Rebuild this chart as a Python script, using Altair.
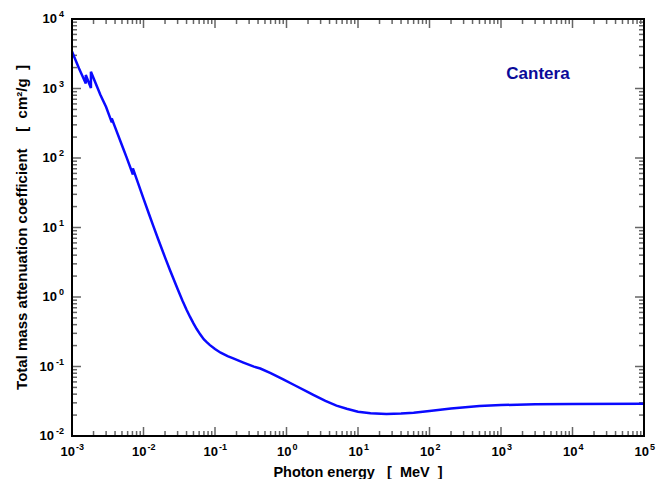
import altair as alt
import pandas as pd

# Photon energy (MeV) and total mass attenuation coefficient (cm^2/g)
energy = [1.0e-3, 1.25e-3, 1.56e-3, 1.56e-3, 1.84e-3, 1.84e-3, 2.5e-3, 3.0e-3, 3.6e-3, 3.6e-3,
          4.0e-3, 5.2e-3, 5.8e-3, 7.11e-3, 7.11e-3, 8.0e-3, 1.0e-2, 1.2e-2, 1.37e-2, 1.6e-2,
          2.0e-2, 2.35e-2, 3.0e-2, 3.5e-2, 4.0e-2, 4.5e-2, 5.0e-2, 5.55e-2, 6.2e-2, 7.0e-2,
          7.66e-2, 8.5e-2, 0.1, 0.12, 0.15, 0.18, 0.25, 0.35, 0.43, 0.6,
          0.9, 1.3, 2.0, 2.37, 3.5, 5.0, 6.95, 10.0, 15.0, 25.0,
          40.0, 60.0, 100.0, 200.0, 500.0, 1000.0, 3000.0, 1.0e4, 1.0e5]
mu = [3400, 1955, 1180, 1560, 1016, 1740, 808, 541, 325, 370,
      278, 137, 102, 58, 71, 50.2, 26.1, 15.4, 10.55, 6.83,
      3.72, 2.43, 1.30, 0.891, 0.655, 0.512, 0.417, 0.346, 0.290, 0.245,
      0.224, 0.203, 0.178, 0.158, 0.141, 0.131, 0.114, 0.0997, 0.0935, 0.0805,
      0.0655, 0.0537, 0.0429, 0.0392, 0.0321, 0.0274, 0.0247, 0.0223, 0.0212, 0.0207,
      0.0210, 0.0216, 0.0229, 0.0248, 0.0270, 0.0279, 0.0286, 0.0289, 0.0291]

# tick-label exponents (labels read as 10^n)
x_exponents = [-3, -2, -1, 0, 1, 2, 3, 4, 5]
y_exponents = [-2, -1, 0, 1, 2, 3, 4]

x_title = "Photon energy\u00a0\u00a0\u00a0[\u00a0\u00a0MeV\u00a0\u00a0]"
y_title = "Total mass attenuation coefficient\u00a0\u00a0\u00a0\u00a0[\u00a0\u00a0cm²/g\u00a0\u00a0]"
note = "Cantera"

x_major = [10.0 ** n for n in x_exponents]
y_major = [10.0 ** n for n in y_exponents]
x_minor = [k * 10.0 ** n for n in x_exponents[:-1] for k in range(2, 10)]
y_minor = [k * 10.0 ** n for n in y_exponents[:-1] for k in range(2, 10)]

W, H = 572, 417
FONT = "Liberation Sans"
TICK_COLOR = "#666666"
X_DOM = [x_major[0], x_major[-1]]
Y_DOM = [y_major[0], y_major[-1]]
PX_PER_DEC_X = W / (len(x_exponents) - 1)
PX_PER_DEC_Y = H / (len(y_exponents) - 1)

df = pd.DataFrame({"E": energy, "mu": mu, "i": range(len(energy))})

xscale = alt.Scale(type="log", domain=X_DOM, nice=False)
yscale = alt.Scale(type="log", domain=Y_DOM, nice=False)

line = alt.Chart(df).mark_line(color="#0a0aff", strokeWidth=2.5, clip=True).encode(
    x=alt.X("E:Q", scale=xscale, axis=None),
    y=alt.Y("mu:Q", scale=yscale, axis=None),
    order="i:Q",
)

# inward tick marks on all four sides, as short two-point line segments
rows = []


def seg(xa, ya, xb, yb):
    gid = "t%d" % len(rows)
    rows.append({"tx": xa, "ty": ya, "g": gid})
    rows.append({"tx": xb, "ty": yb, "g": gid})


for vals, L in ((x_major, 9), (x_minor, 5)):
    f = 10 ** (L / PX_PER_DEC_Y)
    for v in vals:
        seg(v, Y_DOM[0], v, Y_DOM[0] * f)
        seg(v, Y_DOM[1], v, Y_DOM[1] / f)
for vals, L in ((y_major, 9), (y_minor, 5)):
    f = 10 ** (L / PX_PER_DEC_X)
    for v in vals:
        seg(X_DOM[0], v, X_DOM[0] * f, v)
        seg(X_DOM[1], v, X_DOM[1] / f, v)

ticks = alt.Chart(pd.DataFrame(rows)).mark_line(color=TICK_COLOR, strokeWidth=1.5).encode(
    x=alt.X("tx:Q", scale=xscale, axis=None),
    y=alt.Y("ty:Q", scale=yscale, axis=None),
    detail="g:N",
)


def xlabels(exps, dx):
    d = pd.DataFrame({"v": [10.0 ** n for n in exps], "b": ["10"] * len(exps),
                      "s": [str(n) for n in exps]})
    base = alt.Chart(d)
    ten = base.mark_text(font=FONT, fontSize=13, fontWeight="bold", color="black",
                         align="right", baseline="alphabetic", dx=dx).encode(
        x=alt.X("v:Q", scale=xscale, axis=None), y=alt.value(H + 20), text="b:N")
    ex = base.mark_text(font=FONT, fontSize=9, fontWeight="bold", color="black",
                        align="left", baseline="alphabetic", dx=dx + 1).encode(
        x=alt.X("v:Q", scale=xscale, axis=None), y=alt.value(H + 14), text="s:N")
    return [ten, ex]


def ylabels(exps, wexp):
    d = pd.DataFrame({"v": [10.0 ** n for n in exps], "b": ["10"] * len(exps),
                      "s": [str(n) for n in exps]})
    base = alt.Chart(d)
    ten = base.mark_text(font=FONT, fontSize=13, fontWeight="bold", color="black",
                         align="right", baseline="middle").encode(
        y=alt.Y("v:Q", scale=yscale, axis=None), x=alt.value(-9 - wexp), text="b:N")
    ex = base.mark_text(font=FONT, fontSize=9, fontWeight="bold", color="black",
                        align="right", baseline="middle", dy=-5).encode(
        y=alt.Y("v:Q", scale=yscale, axis=None), x=alt.value(-8), text="s:N")
    return [ten, ex]


labels = (xlabels([n for n in x_exponents if n < 0], 3)
          + xlabels([n for n in x_exponents if n >= 0], 5)
          + ylabels([n for n in y_exponents if n < 0], 9)
          + ylabels([n for n in y_exponents if n >= 0], 6))

titles = alt.Chart(pd.DataFrame({"t": [x_title]})).mark_text(
    font=FONT, fontSize=14.5, fontWeight="bold", color="black", align="center",
    baseline="alphabetic").encode(text="t:N", x=alt.value(W / 2), y=alt.value(H + 41))
ytitle = alt.Chart(pd.DataFrame({"t": [y_title]})).mark_text(
    font=FONT, fontSize=15, fontWeight="bold", color="black", align="center",
    baseline="middle", angle=270).encode(text="t:N", x=alt.value(-50), y=alt.value(H / 2))

frame = alt.Chart(pd.DataFrame({"f": [0]})).mark_rect(
    filled=False, stroke="black", strokeWidth=2, fillOpacity=0).encode(
    x=alt.value(0), x2=alt.value(W), y=alt.value(0), y2=alt.value(H))

label = alt.Chart(pd.DataFrame({"t": [note]})).mark_text(
    font=FONT, fontSize=17, fontWeight="bold", color="#0a0a99", align="center",
    baseline="middle").encode(text="t:N", x=alt.value(466), y=alt.value(55))

chart = alt.layer(ticks, line, frame, *labels, titles, ytitle, label).properties(
    width=W, height=H,
    autosize=alt.AutoSizeParams(type="none"),
    padding={"left": 64, "top": 11, "right": 12, "bottom": 43},
).configure(background="white")

chart.save("out.html", embed_options={"renderer": "svg", "actions": False})
